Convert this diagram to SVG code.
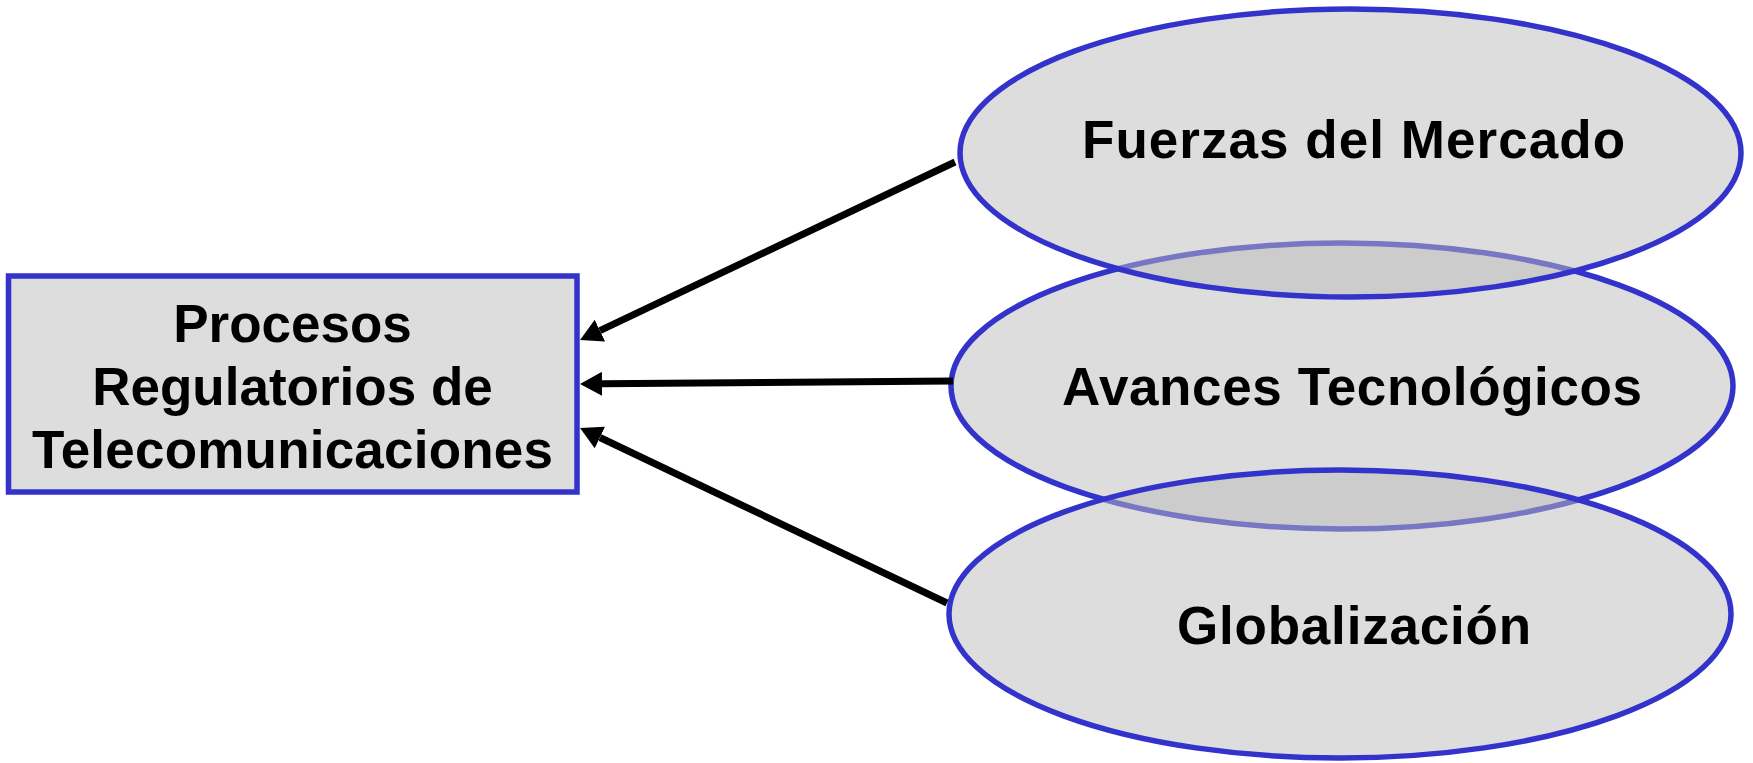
<svg xmlns="http://www.w3.org/2000/svg" width="1753" height="763" viewBox="0 0 1753 763">
  <style>
    .box { fill: #dddddd; stroke: #3333cc; stroke-width: 5.5; }
    .oval { fill: #bbbbbb; fill-opacity: 0.5; stroke: #3333cc; stroke-width: 5.5; }
    .label { font-family: "Liberation Sans", Arial, Helvetica, sans-serif; font-weight: bold; font-size: 53px; fill: #000000; text-anchor: middle; }
    .link { fill: none; stroke: #000000; stroke-width: 7; }
  </style>
  <defs>
    <marker id="arrow" markerUnits="userSpaceOnUse" viewBox="0 0 22 24" markerWidth="22" markerHeight="24" refX="0" refY="12" orient="auto">
      <path d="M0,0 L22,12 L0,24 Z" fill="#000000"/>
    </marker>
  </defs>

  <rect width="1753" height="763" fill="#ffffff"/>

  <!-- target box -->
  <g id="procesos">
    <rect class="box" x="8.5" y="276" width="568.5" height="216"/>
    <text class="label" x="292.5" y="342">Procesos</text>
    <text class="label" x="292.5" y="405">Regulatorios de</text>
    <text class="label" x="292.5" y="468" textLength="521" lengthAdjust="spacing">Telecomunicaciones</text>
  </g>

  <!-- driving forces: middle one sits underneath the other two -->
  <g id="avances">
    <ellipse class="oval" cx="1342" cy="386" rx="391" ry="143"/>
    <text class="label" x="1352" y="405" textLength="580" lengthAdjust="spacing">Avances Tecnológicos</text>
  </g>

  <g id="fuerzas">
    <ellipse class="oval" cx="1350.5" cy="153" rx="390.5" ry="144"/>
    <text class="label" x="1353.5" y="158" textLength="543" lengthAdjust="spacing">Fuerzas del Mercado</text>
  </g>

  <g id="globalizacion">
    <ellipse class="oval" cx="1340" cy="614" rx="391" ry="144"/>
    <text class="label" x="1354" y="644" textLength="354" lengthAdjust="spacing">Globalización</text>
  </g>

  <!-- influence arrows into the box -->
  <g id="connectors">
    <line class="link" x1="955" y1="162" x2="599.9" y2="330.6" marker-end="url(#arrow)"/>
    <line class="link" x1="953" y1="381" x2="602" y2="383.8" marker-end="url(#arrow)"/>
    <line class="link" x1="947" y1="603" x2="599.9" y2="437.5" marker-end="url(#arrow)"/>
  </g>
</svg>
